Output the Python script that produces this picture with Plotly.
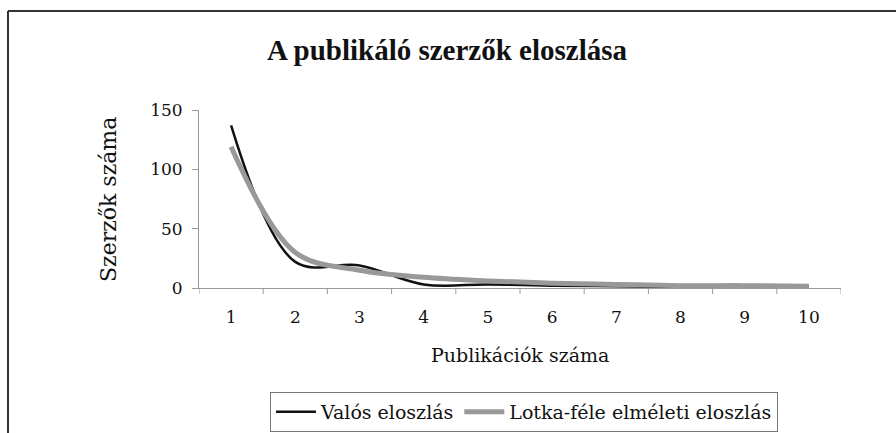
import plotly.graph_objects as go

categories = [1, 2, 3, 4, 5, 6, 7, 8, 9, 10]
valos = [137, 22, 19, 3, 3, 2, 1.5, 1, 1, 1]
lotka = [119, 30, 15, 9, 6, 4, 3, 2, 2, 1.5]
y_ticks = [0, 50, 100, 150]

FONT = "DejaVu Serif"
TFONT = "Liberation Serif"

fig = go.Figure()
fig.add_trace(go.Scatter(x=categories, y=valos, mode="lines", name="Valós eloszlás",
                         line=dict(color="#111111", width=2.5, shape="spline", smoothing=1)))
fig.add_trace(go.Scatter(x=categories, y=lotka, mode="lines", name="Lotka-féle elméleti eloszlás",
                         line=dict(color="#999999", width=5, shape="spline", smoothing=1)))

L, R, T, B = 199, 55, 110, 145
W, H = 896, 433
pw = W - L - R
ph = H - T - B

def px(x):
    return (x - L) / pw

def py(y):
    return (H - B - y) / ph

fig.update_layout(
    width=W, height=H,
    margin=dict(l=L, r=R, t=T, b=B, autoexpand=False),
    paper_bgcolor="white", plot_bgcolor="white",
    font=dict(family=FONT, color="#111111", size=17),
    title=dict(text="<b>A publikáló szerzők eloszlása</b>", x=px(447), xref="paper", xanchor="center",
               y=1 - 50 / H, yanchor="middle", font=dict(size=29, family=TFONT, color="#111111")),
    showlegend=True,
    legend=dict(orientation="h", x=px(524), xanchor="center", y=py(392), yanchor="top",
                bordercolor="#777777", borderwidth=1, font=dict(size=19, family=FONT),
                itemwidth=40, tracegroupgap=0),
    xaxis=dict(range=[0.5, 10.5], tickmode="array", tickvals=categories,
               ticktext=[str(c) for c in categories], showgrid=False, zeroline=False,
               showline=True, linecolor="#9a9a9a", linewidth=1, automargin=False,
               ticks="", tickfont=dict(size=17), ticklabelstandoff=14),
    yaxis=dict(range=[0, 150], tickvals=y_ticks, showgrid=False, zeroline=False,
               showline=True, linecolor="#9a9a9a", linewidth=1, automargin=False,
               ticks="outside", ticklen=6, tickcolor="#9a9a9a", tickfont=dict(size=17),
               ticklabelstandoff=6),
    annotations=[
        dict(text="Publikációk száma", xref="paper", yref="paper", x=px(520), y=py(355),
             xanchor="center", yanchor="middle", showarrow=False, font=dict(size=19, family=FONT)),
        dict(text="Szerzők száma", xref="paper", yref="paper", x=px(108), y=py(200),
             xanchor="center", yanchor="middle", showarrow=False, textangle=-90,
             font=dict(size=22, family=FONT)),
    ],
    shapes=[
        dict(type="line", xref="paper", yref="paper", x0=px(8), x1=px(900), y0=py(11), y1=py(11),
             line=dict(color="#333333", width=2)),
        dict(type="line", xref="paper", yref="paper", x0=px(8), x1=px(8), y0=py(11), y1=py(440),
             line=dict(color="#333333", width=2)),
    ] + [
        dict(type="line", xref="x", yref="paper", x0=b, x1=b, y0=0, y1=-6 / ph,
             line=dict(color="#9a9a9a", width=1))
        for b in [c - 0.5 for c in categories] + [10.5]
    ],
)

fig.write_html("out.html", config={"displayModeBar": False},
               post_script="document.body.style.margin='0';document.body.style.overflow='hidden';")
